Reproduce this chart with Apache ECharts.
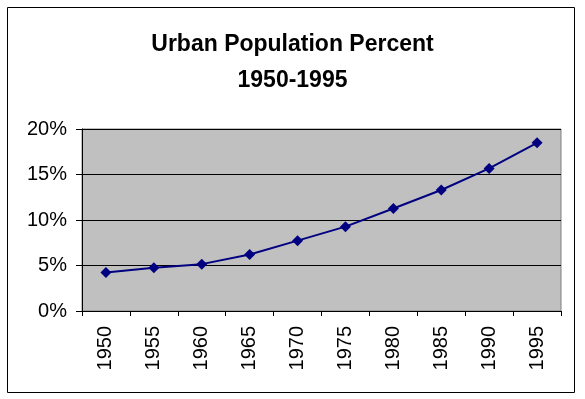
<!DOCTYPE html>
<html>
<head>
<meta charset="utf-8">
<script src="https://cdn.jsdelivr.net/npm/echarts@6/dist/echarts.min.js"></script>
<style>
  html, body { margin: 0; padding: 0; background: #fff; }
  #chart { width: 585px; height: 399px; }
</style>
</head>
<body>
<div id="chart"></div>
<script>
// data
var years = ['1950', '1955', '1960', '1965', '1970', '1975', '1980', '1985', '1990', '1995'];
var urbanPct = [4.24, 4.75, 5.15, 6.2, 7.73, 9.27, 11.26, 13.3, 15.67, 18.48];
var titleLines = ['Urban Population Percent', '1950-1995'];

var chart = echarts.init(document.getElementById('chart'));

var option = {
    backgroundColor: '#fff',
    animation: false,
    textStyle: { fontFamily: 'Liberation Sans, Arial, sans-serif' },
    title: {
        text: titleLines.join('\n'),
        left: 'center',
        top: 22,
        textStyle: {
            color: '#000',
            fontSize: 23,
            fontWeight: 'bold',
            lineHeight: 36,
            fontFamily: 'Liberation Sans, Arial, sans-serif'
        }
    },
    graphic: [{
        type: 'rect',
        shape: { x: 7.5, y: 7.5, width: 567, height: 385 },
        style: { fill: null, stroke: '#000', lineWidth: 1 },
        silent: true,
        z: -1
    }],
    grid: {
        left: 82,
        right: 24,
        top: 129,
        bottom: 88,
        show: true,
        backgroundColor: '#c0c0c0',
        borderColor: '#808080',
        borderWidth: 1
    },
    xAxis: {
        type: 'category',
        data: years,
        boundaryGap: true,
        axisLine: { lineStyle: { color: '#000', width: 1 } },
        axisTick: { show: true, length: 5, alignWithLabel: false, lineStyle: { color: '#000' } },
        axisLabel: {
            rotate: 90,
            margin: 15,
            color: '#000',
            fontSize: 20
        },
        splitLine: { show: false }
    },
    yAxis: {
        type: 'value',
        min: 0,
        max: 20,
        interval: 5,
        axisLine: { show: true, lineStyle: { color: '#000', width: 1 } },
        axisTick: { show: true, length: 6, lineStyle: { color: '#000' } },
        axisLabel: {
            formatter: '{value}%',
            margin: 15,
            color: '#000',
            fontSize: 20
        },
        splitLine: { show: true, lineStyle: { color: '#000', width: 1 } }
    },
    series: [{
        name: 'Urban Population Percent',
        type: 'line',
        data: urbanPct,
        symbol: 'diamond',
        symbolSize: 11,
        lineStyle: { color: '#000080', width: 2 },
        itemStyle: { color: '#000080' }
    }]
};

chart.setOption(option);
</script>
</body>
</html>
